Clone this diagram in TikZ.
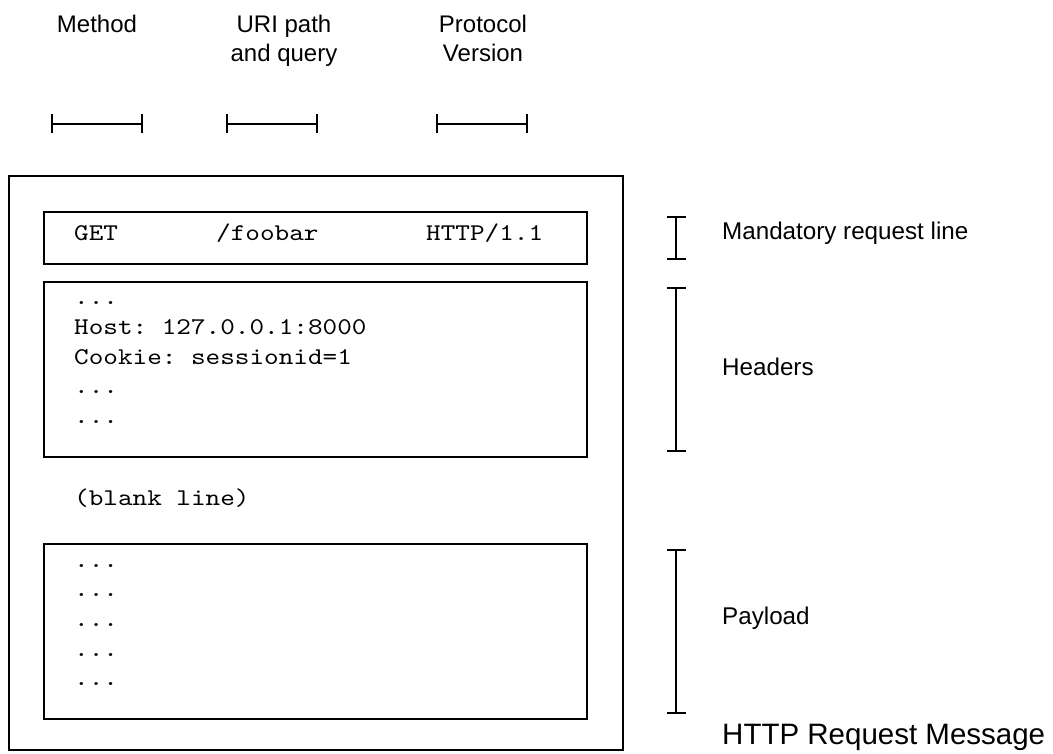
\documentclass[tikz,border=0pt]{standalone}
\usepackage{fontspec}
\setmainfont{Liberation Sans}
\setmonofont[FakeStretch=1.16]{lmmono10-regular.otf}
\usetikzlibrary{arrows.meta,positioning,calc}
\newcommand\threedots{...}
\tikzset{
  frame/.style={draw=black,line width=1.5pt,inner sep=0pt,minimum width=614pt,minimum height=574pt},
  part/.style={draw=black,line width=2pt,inner sep=0pt,minimum width=543pt,minimum height=175pt},
  field/.style={font=\fontsize{24}{29}\selectfont,align=center,inner sep=0pt,anchor=base},
  raw/.style={font=\fontsize{24}{30}\selectfont\ttfamily,inner sep=0pt,anchor=base west},
  side/.style={font=\fontsize{24.2}{29}\selectfont,inner sep=0pt,anchor=west},
  span/.style={{Bar[width=19pt,line width=2pt]}-{Bar[width=19pt,line width=2pt]},line width=2pt,draw=black}
}

\begin{document}
\begin{tikzpicture}[x=1pt,y=-1pt]
  \useasboundingbox (0,0) rectangle (1053,754);

  % message and its three parts
  \node (message) [frame] at (316,463) {};
  \node (reqline) [part,minimum height=52pt] at (315.5,238) {};
  \node (headers) [part] at (315.5,369.5) {};
  \node (payload) [part] at (315.5,631.5) {};

  % request line fields (base of a two-line label is its last line)
  \node (method) [field] at (97,33) {Method};
  \node (uri) [field] at (284,62) {URI path\\and query};
  \node (proto) [field] at (483,62) {Protocol\\Version};
  \draw[span] (51,124) -- (143,124);
  \draw[span] (226,124) -- (318,124);
  \draw[span] (436,124) -- (528,124);

  \node (get) [raw] at (74,241) {GET};
  \node (path) [raw] at (216,241) {/foobar};
  \node (version) [raw] at (426,241) {HTTP/1.1};

  \foreach \txt [count=\i from 0] in {\threedots,Host: 127.0.0.1:8000,Cookie: sessionid=1,\threedots,\threedots}
    \node (hdr\i) [raw] at (74,305+29.5*\i) {\txt};

  \node (blank) [raw] at (74,505) {(blank line)};

  \foreach \i in {0,1,2,3,4}
    \node (body\i) [raw] at (74,567+29.7*\i) {\threedots};

  % labels on the right
  \draw[span] ($(reqline.north east)+(88,5)$) -- ($(reqline.south east)+(88,-5)$);
  \draw[span] ($(headers.north east)+(88,6)$) -- ($(headers.south east)+(88,-6)$);
  \draw[span] ($(payload.north east)+(88,6)$) -- ($(payload.south east)+(88,-6)$);
  \node (reqlbl) [side] at (722,233) {Mandatory request line};
  \node (hdrlbl) [side] at (722,367) {Headers};
  \node (paylbl) [side] at (722,618) {Payload};
  \node (title) [side,font=\fontsize{29.5}{35}\selectfont] at (722,737) {HTTP Request Message};
\end{tikzpicture}
\end{document}
